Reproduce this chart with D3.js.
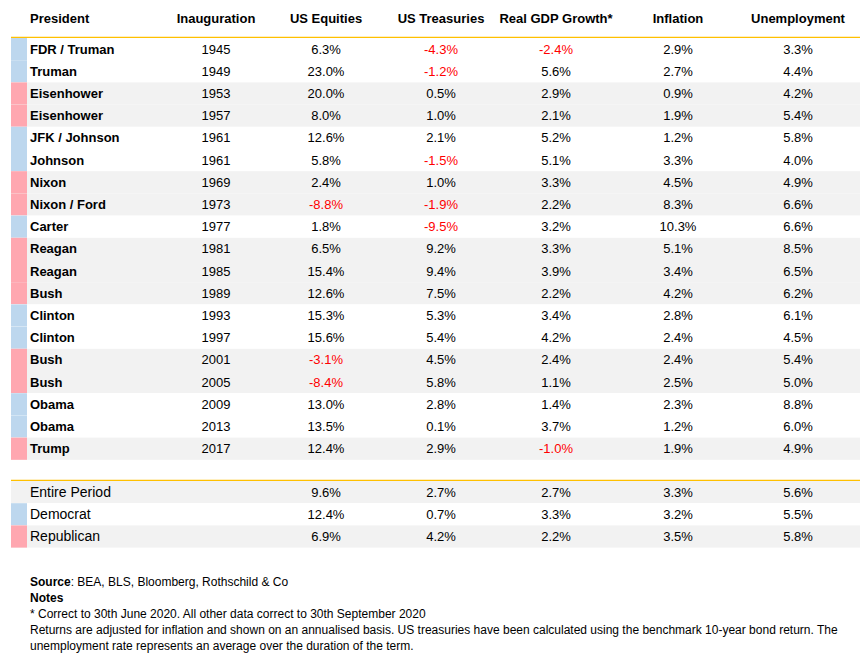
<!DOCTYPE html>
<html lang="en">
<head>
  <meta charset="UTF-8">
  <title>US Presidents and Markets</title>
  <script src="https://d3js.org/d3.v7.min.js"></script>
  <style>
    body { margin: 0; background: #fff; }
    text { font-family: "Liberation Sans", Arial, sans-serif; font-size: 13px; fill: #000; }
  </style>
</head>
<body>
<svg id="chart" width="864" height="660"></svg>
<script>
  // Table data
  var columns = ["President", "Inauguration", "US Equities", "US Treasuries", "Real GDP Growth*", "Inflation", "Unemployment"];
  var presidents = ["FDR / Truman", "Truman", "Eisenhower", "Eisenhower", "JFK / Johnson", "Johnson", "Nixon", "Nixon / Ford", "Carter", "Reagan", "Reagan", "Bush", "Clinton", "Clinton", "Bush", "Bush", "Obama", "Obama", "Trump"];
  var party = ["D", "D", "R", "R", "D", "D", "R", "R", "D", "R", "R", "R", "D", "D", "R", "R", "D", "D", "R"];
  var years = [1945, 1949, 1953, 1957, 1961, 1961, 1969, 1973, 1977, 1981, 1985, 1989, 1993, 1997, 2001, 2005, 2009, 2013, 2017];
  var equities = [6.3, 23.0, 20.0, 8.0, 12.6, 5.8, 2.4, -8.8, 1.8, 6.5, 15.4, 12.6, 15.3, 15.6, -3.1, -8.4, 13.0, 13.5, 12.4];
  var treasuries = [-4.3, -1.2, 0.5, 1.0, 2.1, -1.5, 1.0, -1.9, -9.5, 9.2, 9.4, 7.5, 5.3, 5.4, 4.5, 5.8, 2.8, 0.1, 2.9];
  var gdp = [-2.4, 5.6, 2.9, 2.1, 5.2, 5.1, 3.3, 2.2, 3.2, 3.3, 3.9, 2.2, 3.4, 4.2, 2.4, 1.1, 1.4, 3.7, -1.0];
  var inflation = [2.9, 2.7, 0.9, 1.9, 1.2, 3.3, 4.5, 8.3, 10.3, 5.1, 3.4, 4.2, 2.8, 2.4, 2.4, 2.5, 2.3, 1.2, 1.9];
  var unemployment = [3.3, 4.4, 4.2, 5.4, 5.8, 4.0, 4.9, 6.6, 6.6, 8.5, 6.5, 6.2, 6.1, 4.5, 5.4, 5.0, 8.8, 6.0, 4.9];

  var summaryNames = ["Entire Period", "Democrat", "Republican"];
  var summaryParty = ["", "D", "R"];
  var summaryEquities = [9.6, 12.4, 6.9];
  var summaryTreasuries = [2.7, 0.7, 4.2];
  var summaryGdp = [2.7, 3.3, 2.2];
  var summaryInflation = [3.3, 3.2, 3.5];
  var summaryUnemployment = [5.6, 5.5, 5.8];

  var svg = d3.select("#chart");
  var colX = [30, 216, 326, 441, 556, 678, 798];
  var stripColor = { D: "#BDD7EE", R: "#FFA7B0" };
  var fmt = function (v) { return v.toFixed(1) + "%"; };

  // Header
  svg.selectAll("text.head").data(columns).enter().append("text")
    .attr("x", (d, i) => colX[i])
    .attr("y", 23)
    .attr("text-anchor", (d, i) => i === 0 ? "start" : "middle")
    .style("font-weight", "bold")
    .text(d => d);

  function drawTable(top, names, parties, valueCols, bold, bgFn, yearCol) {
    var y = d3.scaleBand().domain(d3.range(names.length)).range([top, top + names.length * 22.2]);
    svg.append("line").attr("x1", 11).attr("x2", 860).attr("y1", top - 0.5).attr("y2", top - 0.5)
      .attr("stroke", "#FFC000").attr("stroke-width", 1.5);
    var rows = svg.selectAll(null).data(names).enter().append("g")
      .attr("transform", (d, i) => "translate(0," + y(i) + ")");
    rows.append("rect").attr("x", 11).attr("width", 849).attr("height", y.bandwidth())
      .attr("fill", (d, i) => bgFn(i));
    rows.append("rect").attr("x", 11).attr("width", 16).attr("height", y.bandwidth())
      .attr("fill", (d, i) => stripColor[parties[i]] || "none");
    var ty = y.bandwidth() / 2 + 4.5;
    rows.append("text").attr("x", colX[0]).attr("y", ty)
      .style("font-weight", bold ? "bold" : "normal")
      .style("font-size", bold ? "13px" : "14px")
      .text(d => d);
    if (yearCol) {
      rows.append("text").attr("x", colX[1]).attr("y", ty).attr("text-anchor", "middle")
        .text((d, i) => yearCol[i]);
    }
    valueCols.forEach(function (vals, c) {
      rows.append("text").attr("x", colX[c + 2]).attr("y", ty).attr("text-anchor", "middle")
        .style("fill", (d, i) => vals[i] < 0 ? "#FF0000" : "#000")
        .text((d, i) => fmt(vals[i]));
    });
  }

  drawTable(38, presidents, party, [equities, treasuries, gdp, inflation, unemployment], true,
    i => party[i] === "R" ? "#F2F2F2" : "#FFFFFF", years);

  drawTable(481, summaryNames, summaryParty,
    [summaryEquities, summaryTreasuries, summaryGdp, summaryInflation, summaryUnemployment], false,
    i => i === 1 ? "#FFFFFF" : "#F2F2F2", null);

  // Notes
  var notes = [
    [["Source", true], [": BEA, BLS, Bloomberg, Rothschild & Co", false]],
    [["Notes", true]],
    [["* Correct to 30th June 2020. All other data correct to 30th September 2020", false]],
    [["Returns are adjusted for inflation and shown on an annualised basis. US treasuries have been calculated using the benchmark 10-year bond return. The", false]],
    [["unemployment rate represents an average over the duration of the term.", false]]
  ];
  notes.forEach(function (parts, i) {
    var t = svg.append("text").attr("x", 30).attr("y", 586 + i * 16).style("font-size", "12px");
    parts.forEach(function (p) {
      t.append("tspan").style("font-weight", p[1] ? "bold" : "normal").text(p[0]);
    });
  });
</script>
</body>
</html>
